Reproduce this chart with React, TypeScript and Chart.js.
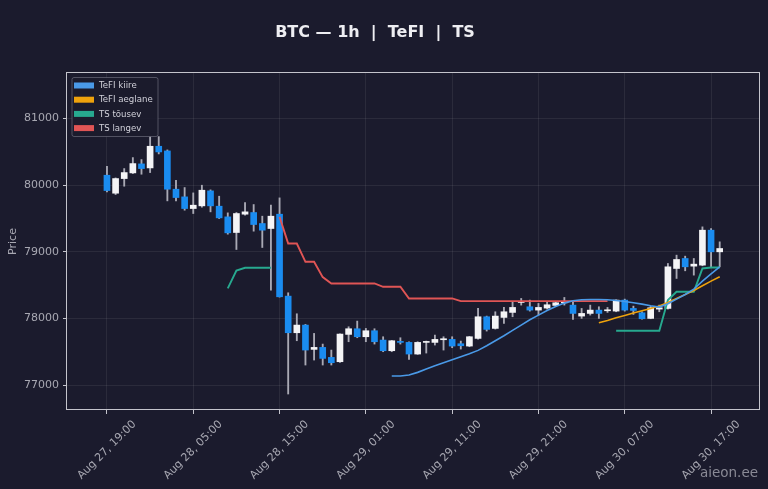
import React, { useEffect, useRef } from 'react';
import Chart from 'chart.js/auto';

// hourly candles, index 0 = Aug 27 19:00
const opens = [
    80150, 79880, 80100, 80185, 80320, 80260, 80585, 80515, 79940, 79825,
    79650, 79690, 79915, 79685, 79525, 79290, 79565, 79590, 79425, 79350,
    79565, 78335, 77785, 77900, 77535, 77565, 77415, 77350, 77760, 77845,
    77725, 77815, 77675, 77515, 77655, 77640, 77465, 77640, 77640, 77680,
    77685, 77620, 77585, 77700, 78025, 77850, 78015, 78090, 78240, 78175,
    78125, 78155, 78195, 78235, 78200, 78035, 78075, 78125, 78115, 78110,
    78275, 78150, 78085, 78000, 78140, 78150, 78750, 78900, 78785, 78800,
    79325, 79000,
];
const highs = [
    80285, 80110, 80250, 80415, 80385, 80725, 80730, 80530, 80075, 79965,
    79885, 80000, 79930, 79835, 79585, 79590, 79740, 79710, 79535, 79700,
    79810, 78385, 78070, 77910, 77775, 77615, 77525, 77770, 77875, 77960,
    77850, 77845, 77725, 77670, 77710, 77650, 77650, 77660, 77750, 77725,
    77725, 77660, 77730, 78150, 78035, 78100, 78165, 78250, 78300, 78275,
    78225, 78250, 78250, 78315, 78250, 78150, 78200, 78175, 78165, 78280,
    78290, 78185, 78100, 78180, 78200, 78825, 78950, 78935, 78900, 79375,
    79350, 79150,
];
const lows = [
    79900, 79860, 79985, 80175, 80165, 80190, 80470, 79765, 79765, 79625,
    79575, 79670, 79600, 79500, 79265, 79035, 79550, 79310, 79065, 78425,
    78320, 76865, 77665, 77300, 77375, 77300, 77300, 77340, 77650, 77710,
    77650, 77615, 77500, 77500, 77615, 77385, 77460, 77480, 77600, 77525,
    77560, 77540, 77575, 77690, 77810, 77840, 77925, 78025, 78200, 78110,
    78050, 78140, 78180, 78200, 77985, 78000, 78050, 78000, 78090, 78100,
    78110, 78060, 77990, 77995, 78100, 78140, 78600, 78715, 78650, 78790,
    78775, 78775,
];
const closes = [
    79920, 80100, 80190, 80325, 80250, 80585, 80500, 79940, 79815, 79650,
    79700, 79925, 79690, 79510, 79285, 79575, 79600, 79410, 79325, 79535,
    78325, 77785, 77900, 77525, 77565, 77400, 77335, 77765, 77845, 77725,
    77815, 77650, 77515, 77665, 77640, 77465, 77640, 77655, 77685, 77695,
    77585, 77590, 77725, 78025, 77835, 78035, 78100, 78165, 78255, 78125,
    78165, 78205, 78235, 78250, 78075, 78075, 78125, 78075, 78130, 78275,
    78125, 78120, 77995, 78160, 78160, 78775, 78885, 78775, 78815, 79325,
    79000, 79050,
];

// indicator lines: first candle index + values
const tefiFastStart = 33;
const tefiFast = [
    77135, 77135, 77150, 77190, 77240, 77290, 77335, 77380, 77425, 77470,
    77520, 77590, 77665, 77740, 77820, 77900, 77980, 78050, 78120, 78180,
    78230, 78265, 78280, 78285, 78285, 78280, 78270, 78255, 78235, 78215,
    78190, 78170, 78220, 78290, 78360, 78440, 78560, 78670, 78775,
];
const tefiSlowStart = 57;
const tefiSlow = [
    77935, 77970, 78010, 78045, 78080, 78115, 78150, 78185, 78240, 78300,
    78360, 78420, 78490, 78560, 78625,
];
const tsUpStartA = 14;
const tsUpA = [78450, 78720, 78760, 78760, 78760, 78760];
const tsUpStartB = 59;
const tsUpB = [77815, 77815, 77815, 77815, 77815, 77815, 78275, 78400, 78400, 78400, 78750, 78765, 78765];
const tsDownStart = 20;
const tsDown = [
    79525, 79125, 79125, 78850, 78850, 78620, 78525, 78525, 78525, 78525,
    78525, 78525, 78475, 78475, 78475, 78300, 78300, 78300, 78300, 78300,
    78300, 78260, 78260, 78260, 78260, 78260, 78260, 78260, 78260, 78260,
    78260, 78260, 78260, 78260, 78260, 78260, 78260, 78260, 78260,
];

const tickIndices = [0, 10, 20, 30, 40, 50, 60, 70];
const tickLabels = [
    'Aug 27, 19:00', 'Aug 28, 05:00', 'Aug 28, 15:00', 'Aug 29, 01:00',
    'Aug 29, 11:00', 'Aug 29, 21:00', 'Aug 30, 07:00', 'Aug 30, 17:00',
];
const priceTicks = [77000, 78000, 79000, 80000, 81000];

const BG = '#1b1b2d';
const UP = '#f4f4f6';
const DOWN = '#1a8cf0';
const WICK = '#a9a9b4';
const TEXT = '#a8a8b2';
const GRID = 'rgba(255,255,255,0.07)';
const FONT = '"DejaVu Sans"';

const seg = (start: number, vals: number[]) => vals.map((v, k) => ({ x: start + k, y: v }));

const overlay = {
    id: 'overlay',
    afterDraw(chart: any) {
        const { ctx, chartArea: a } = chart;
        const xs = chart.scales.x;
        ctx.save();

        // frame
        ctx.strokeStyle = '#c4c4cc';
        ctx.lineWidth = 1;
        ctx.strokeRect(Math.round(a.left) - 0.5, Math.round(a.top) - 0.5, Math.round(a.right - a.left), Math.round(a.bottom - a.top));

        // title
        ctx.fillStyle = '#eeeef2';
        ctx.font = `bold 16px ${FONT}`;
        ctx.textAlign = 'center';
        ctx.textBaseline = 'middle';
        ctx.fillText('BTC — 1h  |  TeFI  |  TS', 375, 33);

        // rotated x labels, centred on tick
        ctx.font = `11px ${FONT}`;
        ctx.fillStyle = TEXT;
        tickIndices.forEach((v, k) => {
            const label = tickLabels[k];
            const w = ctx.measureText(label).width;
            const h = (w + 13) * Math.SQRT1_2;
            ctx.save();
            ctx.translate(xs.getPixelForValue(v), a.bottom + 8 + h / 2);
            ctx.rotate(-Math.PI / 4);
            ctx.fillText(label, 0, 0);
            ctx.restore();
        });

        // legend box
        const lines = chart.data.datasets.filter((d: any) => d.type === 'line');
        const bx = 72, by = 77.5, bw = 86, bh = 59;
        ctx.fillStyle = 'rgba(27,27,45,0.85)';
        ctx.strokeStyle = 'rgba(120,120,135,0.6)';
        ctx.beginPath();
        ctx.roundRect(bx, by, bw, bh, 2);
        ctx.fill();
        ctx.stroke();
        ctx.font = `8.6px ${FONT}`;
        ctx.textAlign = 'left';
        lines.forEach((d: any, k: number) => {
            const cy = by + 8 + k * 14.2;
            ctx.fillStyle = d.borderColor;
            ctx.fillRect(bx + 2, cy - 3, 20, 6);
            ctx.fillStyle = '#d2d2da';
            ctx.fillText(d.label, bx + 27, cy + 0.5);
        });

        // watermark
        ctx.font = `13.5px ${FONT}`;
        ctx.fillStyle = 'rgba(165,165,175,0.8)';
        ctx.textAlign = 'right';
        ctx.textBaseline = 'alphabetic';
        ctx.fillText('aieon.ee', 758, 477);

        ctx.restore();
    },
};

const App: React.FC = () => {
    const canvasRef = useRef<HTMLCanvasElement | null>(null);

    useEffect(() => {
        document.body.style.margin = '0';
        document.body.style.background = BG;
        if (!canvasRef.current) return;
        Chart.defaults.font.family = FONT;

        const idx = opens.map((_, i) => i);
        const chart = new Chart(canvasRef.current, {
            type: 'bar',
            data: {
                datasets: [
                    {
                        type: 'line', label: 'TeFI kiire', data: seg(tefiFastStart, tefiFast),
                        borderColor: '#4a9ae8', borderWidth: 1.6, pointRadius: 0, order: 0,
                    },
                    {
                        type: 'line', label: 'TeFI aeglane', data: seg(tefiSlowStart, tefiSlow),
                        borderColor: '#eea20c', borderWidth: 1.6, pointRadius: 0, order: 1,
                    },
                    {
                        type: 'line', label: 'TS tõusev',
                        data: [...seg(tsUpStartA, tsUpA), { x: 40, y: null }, ...seg(tsUpStartB, tsUpB)],
                        borderColor: '#27a98f', borderWidth: 1.9, pointRadius: 0, spanGaps: false, order: 2,
                    },
                    {
                        type: 'line', label: 'TS langev', data: seg(tsDownStart, tsDown),
                        borderColor: '#e05555', borderWidth: 1.9, pointRadius: 0, order: 3,
                    },
                    {
                        type: 'bar', label: 'body',
                        data: idx.map((i) => ({ x: i, y: [opens[i], closes[i]] })),
                        backgroundColor: idx.map((i) => (closes[i] >= opens[i] ? UP : DOWN)),
                        barThickness: 6, grouped: false, order: 5,
                    },
                    {
                        type: 'bar', label: 'wick',
                        data: idx.map((i) => ({ x: i, y: [lows[i], highs[i]] })),
                        backgroundColor: WICK, barThickness: 1.2, grouped: false, order: 6,
                    },
                ] as any,
            },
            options: {
                animation: false,
                responsive: true,
                maintainAspectRatio: false,
                layout: { padding: { top: 73, right: 8, left: 0, bottom: 0 } },
                plugins: {
                    legend: { display: false },
                    tooltip: { enabled: false },
                    title: { display: false },
                },
                scales: {
                    x: {
                        type: 'linear',
                        min: -4.63,
                        max: 75.67,
                        offset: false,
                        afterBuildTicks: (s: any) => { s.ticks = tickIndices.map((v) => ({ value: v })); },
                        afterFit: (s: any) => { s.height = 79; },
                        ticks: { display: false },
                        grid: { color: GRID, offset: false, drawTicks: true, tickLength: 4, tickColor: '#c4c4cc' },
                        border: { display: false },
                    },
                    y: {
                        type: 'linear',
                        min: 76625,
                        max: 81685,
                        afterBuildTicks: (s: any) => { s.ticks = priceTicks.map((v) => ({ value: v })); },
                        afterFit: (s: any) => { s.width = 67; },
                        ticks: { color: TEXT, font: { size: 11 }, padding: 4, callback: (v: any) => String(v) },
                        grid: { color: GRID, drawTicks: true, tickLength: 4, tickColor: '#c4c4cc' },
                        border: { display: false },
                        title: { display: true, text: 'Price', color: TEXT, font: { size: 11 }, padding: { top: 7, bottom: 4 } },
                    },
                },
            },
            plugins: [overlay],
        });

        return () => chart.destroy();
    }, []);

    return (
        <div style={{ width: 768, height: 489, position: 'relative', background: BG }}>
            <canvas ref={canvasRef}></canvas>
        </div>
    );
};

export default App;
